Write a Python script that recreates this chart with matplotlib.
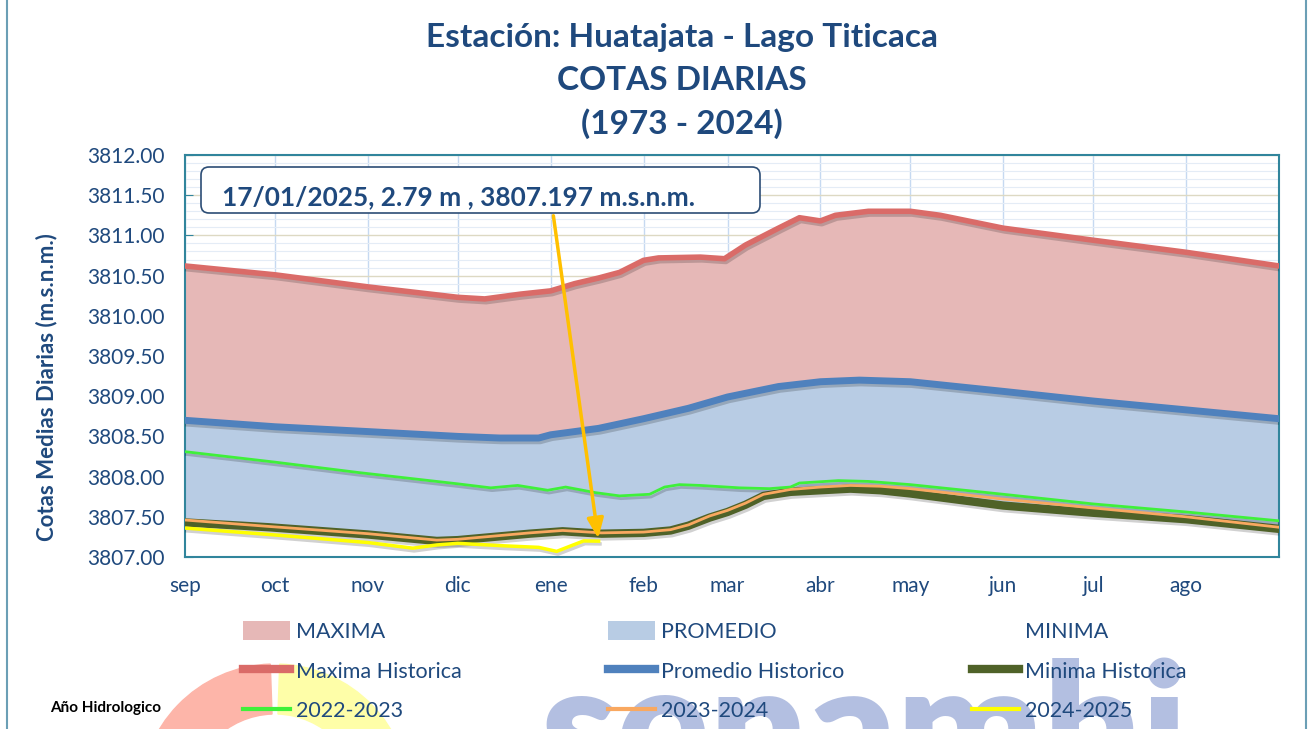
import matplotlib
matplotlib.use("Agg")
import matplotlib.pyplot as plt
import matplotlib.patheffects as pe
from matplotlib.patches import FancyBboxPatch, Wedge, Rectangle, Patch
from matplotlib.lines import Line2D
from matplotlib.transforms import IdentityTransform

plt.rcParams['font.family'] = ['Lato', 'DejaVu Sans']

# dias desde el 1 de septiembre (año hidrologico)
meses = ['sep', 'oct', 'nov', 'dic', 'ene', 'feb', 'mar', 'abr', 'may', 'jun', 'jul', 'ago']
dias_mes = [0, 30, 61, 91, 122, 153, 181, 212, 242, 273, 303, 334]

dias_max = [0, 30, 61, 91, 100, 112, 122, 130, 138, 145, 153, 158, 172, 180, 187, 198, 205, 212, 217, 228, 242, 252, 273, 303, 334, 365]
cota_max = [3810.62, 3810.51, 3810.36, 3810.23, 3810.21, 3810.27, 3810.31, 3810.40, 3810.47, 3810.54,
            3810.69, 3810.72, 3810.73, 3810.71, 3810.88, 3811.09, 3811.22, 3811.18, 3811.25, 3811.30,
            3811.30, 3811.25, 3811.09, 3810.94, 3810.79, 3810.62]

dias_prom = [0, 30, 61, 91, 105, 118, 122, 138, 153, 168, 181, 198, 212, 225, 242, 273, 303, 334, 365]
cota_prom = [3808.70, 3808.62, 3808.56, 3808.50, 3808.48, 3808.48, 3808.52, 3808.60, 3808.72, 3808.85,
             3808.99, 3809.12, 3809.18, 3809.20, 3809.18, 3809.06, 3808.94, 3808.83, 3808.72]

dias_min = [0, 28, 61, 84, 91, 106, 115, 126, 139, 153, 162, 168, 175, 181, 187, 193, 202, 212, 222, 232, 242, 273, 303, 334, 365]
cota_min = [3807.43, 3807.37, 3807.28, 3807.20, 3807.21, 3807.26, 3807.29, 3807.32, 3807.29, 3807.30,
            3807.33, 3807.39, 3807.49, 3807.56, 3807.65, 3807.76, 3807.81, 3807.83, 3807.85, 3807.83,
            3807.79, 3807.64, 3807.55, 3807.47, 3807.35]
cota_2324 = [3807.46, 3807.38, 3807.29, 3807.21, 3807.22, 3807.27, 3807.30, 3807.33, 3807.30, 3807.31,
             3807.34, 3807.40, 3807.51, 3807.58, 3807.67, 3807.78, 3807.84, 3807.87, 3807.89, 3807.88,
             3807.85, 3807.72, 3807.61, 3807.50, 3807.37]

dias_2223 = [0, 30, 58, 91, 102, 111, 121, 127, 137, 145, 155, 160, 165, 172, 185, 195, 202, 205, 218, 228, 242, 273, 303, 334, 365]
cota_2223 = [3808.31, 3808.18, 3808.05, 3807.91, 3807.86, 3807.89, 3807.83, 3807.87, 3807.80, 3807.76,
             3807.78, 3807.87, 3807.90, 3807.89, 3807.86, 3807.85, 3807.87, 3807.92, 3807.95, 3807.94,
             3807.90, 3807.78, 3807.66, 3807.56, 3807.45]

dias_2425 = [0, 28, 61, 76, 84, 91, 106, 118, 124, 133, 138]
cota_2425 = [3807.36, 3807.28, 3807.18, 3807.11, 3807.15, 3807.17, 3807.14, 3807.12, 3807.07, 3807.20, 3807.197]

azul = '#1f497d'
sombra = [pe.SimpleLineShadow(offset=(1, -2), alpha=0.18), pe.Normal()]

fig = plt.figure(figsize=(13.16, 7.29), dpi=100)
ax = fig.add_axes([185 / 1316, 172 / 729, 1094 / 1316, 402 / 729])

# areas
ax.fill_between(dias_max, 3807, cota_max, color='#e6b8b7', lw=0, zorder=1)
ax.fill_between(dias_prom, 3807, cota_prom, color='#b8cce4', lw=0, zorder=1)
ax.fill_between(dias_min, 3807, cota_min, color='white', lw=0, zorder=1)

# lineas
ax.plot(dias_max, cota_max, color='#da6b68', lw=4, zorder=3, path_effects=sombra)
ax.plot(dias_prom, cota_prom, color='#4f81bd', lw=5, zorder=3, path_effects=sombra)
ax.plot(dias_min, cota_min, color='#4f6228', lw=6, zorder=3, path_effects=sombra)
ax.plot(dias_2223, cota_2223, color='#3ff03a', lw=2, zorder=4, path_effects=sombra)
ax.plot(dias_min, cota_2324, color='#f9a860', lw=2, zorder=4)
ax.plot(dias_2425, cota_2425, color='#ffff00', lw=2.5, zorder=4, path_effects=sombra)

ax.set_xlim(0, 365)
ax.set_ylim(3807, 3812)
ax.set_xticks(dias_mes)
ax.set_xticklabels(meses)
ax.set_yticks([3807 + 0.5 * i for i in range(11)])
ax.set_yticklabels(['%.2f' % (3807 + 0.5 * i) for i in range(11)])
ax.set_yticks([3807 + 0.1 * i for i in range(51)], minor=True)
ax.tick_params(axis='both', which='major', direction='in', length=6, color='#31859c',
               labelsize=15, labelcolor=azul)
ax.tick_params(axis='x', pad=14)
ax.tick_params(axis='y', pad=15)
ax.tick_params(axis='y', which='minor', length=0)
ax.grid(axis='y', which='minor', color='#e4ecf6', lw=0.8, zorder=0)
ax.grid(axis='y', which='major', color='#ddd9c3', lw=1, zorder=0)
ax.grid(axis='x', which='major', color='#c6d9f1', lw=1, zorder=0)
ax.set_axisbelow(True)
for s in ax.spines.values():
    s.set_color('#31859c')
    s.set_linewidth(1.5)
ax.set_ylabel('Cotas Medias Diarias (m.s.n.m.)', fontsize=16, fontweight='bold', color=azul)
ax.yaxis.set_label_coords(-128 / 1094, 0.423)

# titulo
for txt, yy in [('Estación: Huatajata - Lago Titicaca', 38), ('COTAS DIARIAS', 80), ('(1973 - 2024)', 124)]:
    fig.text(682 / 1316, 1 - yy / 729, txt, ha='center', va='center',
             fontsize=24, fontweight='bold', color=azul)

# marca de agua
fig.add_artist(Wedge((275, -70), 135, 92, 180, width=50, color='#fdb5a9', transform=IdentityTransform(), zorder=0.5))
fig.add_artist(Wedge((275, -70), 135, 0, 88, width=50, color='#fefea8', transform=IdentityTransform(), zorder=0.5))
fig.text(540 / 1316, -58 / 729, 'senamhi', fontsize=124, fontweight='heavy', color='#b3bfe1',
         ha='left', va='baseline', zorder=0.5)

# cuadro de anotacion
fig.add_artist(FancyBboxPatch((201, 729 - 213), 559, 46, boxstyle='round,pad=0,rounding_size=8',
                              fc='white', ec='#2c4d75', lw=1.2, transform=IdentityTransform(), zorder=5))
fig.text(222 / 1316, 1 - 197 / 729, '17/01/2025, 2.79 m , 3807.197 m.s.n.m.', ha='left', va='center',
         fontsize=18.9, fontweight='bold', color=azul, zorder=6)
ax.annotate('', xy=(138, 3807.197), xytext=(553, 729 - 213), textcoords='figure pixels',
            arrowprops=dict(arrowstyle='-|>,head_length=1.2,head_width=0.5', color='#ffc000', lw=2.5),
            zorder=6, annotation_clip=False)

# leyenda
h_maxa = Patch(fc='#e6b8b7', ec='none')
h_proma = Patch(fc='#b8cce4', ec='none')
h_mina = Patch(fc='white', ec='none')
h_max = Line2D([], [], color='#da6b68', lw=6)
h_prom = Line2D([], [], color='#4f81bd', lw=6)
h_min = Line2D([], [], color='#4f6228', lw=6)
h_2223 = Line2D([], [], color='#3ff03a', lw=3)
h_2324 = Line2D([], [], color='#f9a860', lw=3)
h_2425 = Line2D([], [], color='#ffff00', lw=3)

columnas = [
    ([h_maxa, h_max, h_2223], ['MAXIMA', 'Maxima Historica', '2022-2023'], 243),
    ([h_proma, h_prom, h_2324], ['PROMEDIO', 'Promedio Historico', '2023-2024'], 608),
    ([h_mina, h_min, h_2425], ['MINIMA', 'Minima Historica', '2024-2025'], 972),
]
for hs, ls, x0 in columnas:
    leg = fig.legend(hs, ls, loc='upper left', bbox_to_anchor=(x0 / 1316, 1 - 621 / 729),
                     frameon=False, fontsize=15.5, handlelength=2.2, handleheight=1.0,
                     handletextpad=0.25, labelspacing=0.86, borderpad=0, borderaxespad=0)
    for t in leg.get_texts():
        t.set_color(azul)

fig.text(50 / 1316, 1 - 708 / 729, 'Año Hidrologico', fontsize=11, fontweight='bold',
         color='black', ha='left', va='center')

# marco
fig.add_artist(Rectangle((7, -5), 1299, 760, fill=False, ec='#6b9fb5', lw=1.5,
                         transform=IdentityTransform(), zorder=0.2))

plt.savefig('out.png', dpi=100)
